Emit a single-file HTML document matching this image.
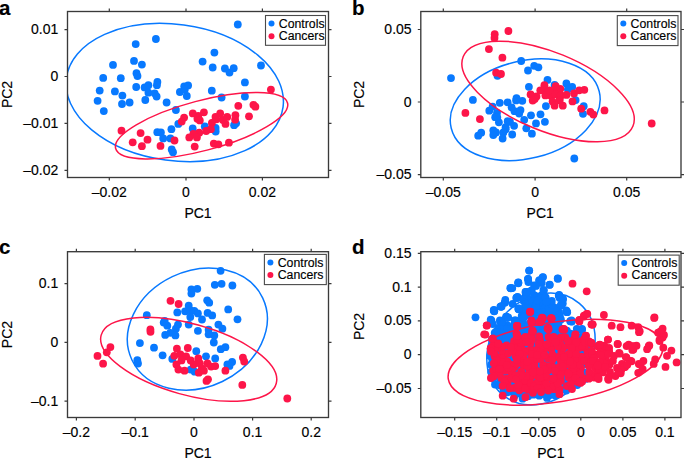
<!DOCTYPE html><html><head><meta charset="utf-8"><style>html,body{margin:0;padding:0;background:#fff;width:685px;height:459px;overflow:hidden}svg{display:block}text{font-family:"Liberation Sans",sans-serif;fill:#000;stroke:#000;stroke-width:0.15px}</style></head><body>
<svg width="685" height="459" viewBox="0 0 685 459">
<clipPath id="clipa"><rect x="67.5" y="11.5" width="261.0" height="166.0"/></clipPath>
<g clip-path="url(#clipa)">
<g fill="#0879ff"><circle cx="135.7" cy="44.1" r="3.9"/><circle cx="155.9" cy="39.0" r="3.9"/><circle cx="113.0" cy="64.9" r="3.9"/><circle cx="134.0" cy="60.9" r="3.9"/><circle cx="141.9" cy="64.6" r="3.9"/><circle cx="237.8" cy="24.5" r="3.9"/><circle cx="214.4" cy="52.6" r="3.9"/><circle cx="202.6" cy="61.6" r="3.9"/><circle cx="212.7" cy="67.5" r="3.9"/><circle cx="224.9" cy="68.5" r="3.9"/><circle cx="229.5" cy="72.6" r="3.9"/><circle cx="233.7" cy="68.2" r="3.9"/><circle cx="261.0" cy="65.5" r="3.9"/><circle cx="103.2" cy="77.9" r="3.9"/><circle cx="120.8" cy="78.2" r="3.9"/><circle cx="136.5" cy="73.2" r="3.9"/><circle cx="137.5" cy="76.1" r="3.9"/><circle cx="99.7" cy="90.6" r="3.9"/><circle cx="114.9" cy="91.4" r="3.9"/><circle cx="122.4" cy="95.6" r="3.9"/><circle cx="136.2" cy="87.0" r="3.9"/><circle cx="144.6" cy="87.4" r="3.9"/><circle cx="148.4" cy="85.2" r="3.9"/><circle cx="148.4" cy="92.7" r="3.9"/><circle cx="157.4" cy="82.0" r="3.9"/><circle cx="156.9" cy="85.2" r="3.9"/><circle cx="154.7" cy="93.3" r="3.9"/><circle cx="156.6" cy="96.5" r="3.9"/><circle cx="97.6" cy="100.8" r="3.9"/><circle cx="145.3" cy="100.0" r="3.9"/><circle cx="122.0" cy="104.0" r="3.9"/><circle cx="129.6" cy="102.5" r="3.9"/><circle cx="166.6" cy="102.5" r="3.9"/><circle cx="103.8" cy="111.1" r="3.9"/><circle cx="184.2" cy="86.4" r="3.9"/><circle cx="188.1" cy="85.4" r="3.9"/><circle cx="179.9" cy="92.0" r="3.9"/><circle cx="186.8" cy="96.0" r="3.9"/><circle cx="184.8" cy="89.6" r="3.9"/><circle cx="211.8" cy="90.7" r="3.9"/><circle cx="221.6" cy="97.5" r="3.9"/><circle cx="175.9" cy="110.0" r="3.9"/><circle cx="244.9" cy="82.4" r="3.9"/><circle cx="244.9" cy="96.5" r="3.9"/><circle cx="157.3" cy="132.2" r="3.9"/><circle cx="160.9" cy="132.5" r="3.9"/><circle cx="163.2" cy="138.4" r="3.9"/><circle cx="171.4" cy="129.2" r="3.9"/><circle cx="170.4" cy="138.4" r="3.9"/><circle cx="171.7" cy="149.5" r="3.9"/><circle cx="173.0" cy="152.2" r="3.9"/><circle cx="178.3" cy="123.9" r="3.9"/><circle cx="192.7" cy="128.5" r="3.9"/><circle cx="204.8" cy="126.4" r="3.9"/><circle cx="215.6" cy="128.0" r="3.9"/><circle cx="215.7" cy="131.5" r="3.9"/><circle cx="234.1" cy="125.2" r="3.9"/><circle cx="236.1" cy="123.3" r="3.9"/></g>
<ellipse cx="174.74" cy="92.54" rx="109.29" ry="68.17" transform="rotate(7.71 174.74 92.54)" fill="none" stroke="#0879ff" stroke-width="1.5"/>
<g fill="#fd1549"><circle cx="198.2" cy="115.9" r="3.9"/><circle cx="184.1" cy="117.6" r="3.9"/><circle cx="121.5" cy="130.7" r="3.9"/><circle cx="140.6" cy="133.1" r="3.9"/><circle cx="147.5" cy="139.7" r="3.9"/><circle cx="132.7" cy="142.3" r="3.9"/><circle cx="141.9" cy="146.2" r="3.9"/><circle cx="270.9" cy="89.6" r="3.9"/><circle cx="253.4" cy="104.8" r="3.9"/><circle cx="255.4" cy="106.7" r="3.9"/><circle cx="249.0" cy="116.3" r="3.9"/><circle cx="160.5" cy="145.9" r="3.9"/><circle cx="174.5" cy="140.5" r="3.9"/><circle cx="213.8" cy="143.6" r="3.9"/><circle cx="218.4" cy="144.3" r="3.9"/><circle cx="228.9" cy="142.7" r="3.9"/><circle cx="194.7" cy="146.6" r="3.9"/><circle cx="216.4" cy="119.3" r="3.9"/><circle cx="223.0" cy="120.0" r="3.9"/><circle cx="235.1" cy="119.7" r="3.9"/><circle cx="211.9" cy="123.0" r="3.9"/><circle cx="238.3" cy="105.8" r="3.9"/><circle cx="181.7" cy="121.6" r="3.9"/><circle cx="192.8" cy="113.4" r="3.9"/><circle cx="197.4" cy="118.7" r="3.9"/><circle cx="199.8" cy="120.4" r="3.9"/><circle cx="203.9" cy="112.3" r="3.9"/><circle cx="220.2" cy="113.4" r="3.9"/><circle cx="215.5" cy="116.9" r="3.9"/><circle cx="227.2" cy="116.9" r="3.9"/><circle cx="225.5" cy="123.9" r="3.9"/><circle cx="235.4" cy="115.2" r="3.9"/><circle cx="210.9" cy="129.2" r="3.9"/><circle cx="206.2" cy="131.0" r="3.9"/><circle cx="199.2" cy="132.7" r="3.9"/><circle cx="193.4" cy="133.9" r="3.9"/><circle cx="189.3" cy="137.4" r="3.9"/><circle cx="196.9" cy="137.4" r="3.9"/></g>
<ellipse cx="201.6" cy="125.76" rx="88.9" ry="24.95" transform="rotate(-14.86 201.6 125.76)" fill="none" stroke="#fd1549" stroke-width="1.5"/>
</g>
<rect x="67.5" y="11.5" width="261.0" height="166.0" fill="none" stroke="#3a3a3a" stroke-width="1.35"/>
<path d="M109.3 11.5v-3M109.3 177.5v3M186 11.5v-3M186 177.5v3M262.4 11.5v-3M262.4 177.5v3M67.5 29.6h-3M328.5 29.6h3M67.5 76.5h-3M328.5 76.5h3M67.5 123.4h-3M328.5 123.4h3M67.5 170.4h-3M328.5 170.4h3" stroke="#3a3a3a" stroke-width="1.2" fill="none"/>
<text x="109.3" y="197.1" font-size="14" text-anchor="middle">–0.02</text>
<text x="186" y="197.1" font-size="14" text-anchor="middle">0</text>
<text x="262.4" y="197.1" font-size="14" text-anchor="middle">0.02</text>
<text x="58.3" y="34.1" font-size="14" text-anchor="end">0.01</text>
<text x="58.3" y="81.0" font-size="14" text-anchor="end">0</text>
<text x="58.3" y="127.9" font-size="14" text-anchor="end">–0.01</text>
<text x="58.3" y="174.9" font-size="14" text-anchor="end">–0.02</text>
<text x="198.0" y="218.0" font-size="14" text-anchor="middle">PC1</text>
<text x="0" y="0" font-size="14" text-anchor="middle" transform="translate(12.3 94.5) rotate(-90)">PC2</text>
<text x="-1" y="14.7" font-size="20.5" font-weight="bold" style="fill:#000">a</text>
<rect x="265.5" y="15.5" width="60.0" height="29.799999999999997" fill="#fff" stroke="#4a4a4a" stroke-width="1.1"/>
<circle cx="271.5" cy="23.5" r="3" fill="#0879ff"/><circle cx="271.5" cy="36.2" r="3" fill="#fd1549"/>
<text x="278.8" y="27.6" font-size="12.3">Controls</text>
<text x="278.8" y="39.6" font-size="12.3">Cancers</text>
<clipPath id="clipb"><rect x="420.8" y="11.5" width="260.2" height="166.0"/></clipPath>
<g clip-path="url(#clipb)">
<g fill="#0879ff"><circle cx="451.0" cy="78.1" r="3.9"/><circle cx="472.9" cy="99.9" r="3.9"/><circle cx="521.2" cy="61.0" r="3.9"/><circle cx="534.2" cy="65.8" r="3.9"/><circle cx="538.4" cy="67.3" r="3.9"/><circle cx="528.0" cy="70.5" r="3.9"/><circle cx="497.5" cy="75.8" r="3.9"/><circle cx="499.8" cy="102.8" r="3.9"/><circle cx="507.6" cy="102.3" r="3.9"/><circle cx="489.3" cy="110.7" r="3.9"/><circle cx="492.6" cy="106.7" r="3.9"/><circle cx="497.0" cy="112.8" r="3.9"/><circle cx="495.2" cy="117.2" r="3.9"/><circle cx="498.9" cy="122.3" r="3.9"/><circle cx="507.7" cy="121.2" r="3.9"/><circle cx="511.6" cy="107.5" r="3.9"/><circle cx="514.5" cy="111.2" r="3.9"/><circle cx="520.5" cy="110.1" r="3.9"/><circle cx="519.2" cy="113.6" r="3.9"/><circle cx="522.3" cy="100.8" r="3.9"/><circle cx="516.1" cy="100.4" r="3.9"/><circle cx="545.9" cy="106.1" r="3.9"/><circle cx="497.3" cy="117.5" r="3.9"/><circle cx="524.2" cy="119.8" r="3.9"/><circle cx="531.0" cy="115.3" r="3.9"/><circle cx="540.5" cy="114.3" r="3.9"/><circle cx="536.0" cy="123.4" r="3.9"/><circle cx="544.9" cy="121.8" r="3.9"/><circle cx="510.0" cy="121.9" r="3.9"/><circle cx="514.1" cy="125.8" r="3.9"/><circle cx="505.6" cy="127.2" r="3.9"/><circle cx="503.4" cy="132.4" r="3.9"/><circle cx="512.2" cy="134.5" r="3.9"/><circle cx="526.3" cy="128.3" r="3.9"/><circle cx="531.9" cy="133.7" r="3.9"/><circle cx="502.6" cy="138.5" r="3.9"/><circle cx="496" cy="132.4" r="3.9"/><circle cx="547.5" cy="79.9" r="3.9"/><circle cx="528.9" cy="86.8" r="3.9"/><circle cx="554.6" cy="84.9" r="3.9"/><circle cx="566.4" cy="83.4" r="3.9"/><circle cx="572.2" cy="86.9" r="3.9"/><circle cx="567.9" cy="89.3" r="3.9"/><circle cx="575.6" cy="100.1" r="3.9"/><circle cx="583.7" cy="106.2" r="3.9"/><circle cx="583.0" cy="113.8" r="3.9"/><circle cx="516.5" cy="98.2" r="3.9"/><circle cx="478.2" cy="135.7" r="3.9"/><circle cx="481.2" cy="132.7" r="3.9"/><circle cx="493.3" cy="130.5" r="3.9"/><circle cx="493.3" cy="135.1" r="3.9"/><circle cx="505.7" cy="129.2" r="3.9"/><circle cx="574.3" cy="158.5" r="3.9"/></g>
<ellipse cx="525.21" cy="109.77" rx="76.24" ry="48.75" transform="rotate(-14.03 525.21 109.77)" fill="none" stroke="#0879ff" stroke-width="1.5"/>
<g fill="#fd1549"><circle cx="545.5" cy="91.3" r="3.9"/><circle cx="555.9" cy="91.3" r="3.9"/><circle cx="551.2" cy="96.1" r="3.9"/><circle cx="559.7" cy="98.0" r="3.9"/><circle cx="536.5" cy="96.5" r="3.9"/><circle cx="494.7" cy="34.2" r="3.9"/><circle cx="494.5" cy="38.0" r="3.9"/><circle cx="508.4" cy="31.0" r="3.9"/><circle cx="488.9" cy="49.1" r="3.9"/><circle cx="502.4" cy="57.7" r="3.9"/><circle cx="496.1" cy="72.7" r="3.9"/><circle cx="501.0" cy="74.0" r="3.9"/><circle cx="465.4" cy="112.9" r="3.9"/><circle cx="479.9" cy="119.1" r="3.9"/><circle cx="530.6" cy="94.4" r="3.9"/><circle cx="534.7" cy="99.0" r="3.9"/><circle cx="532.7" cy="100.5" r="3.9"/><circle cx="540.3" cy="90.3" r="3.9"/><circle cx="544.4" cy="85.2" r="3.9"/><circle cx="545.4" cy="95.4" r="3.9"/><circle cx="549.5" cy="90.3" r="3.9"/><circle cx="555.7" cy="86.2" r="3.9"/><circle cx="560.3" cy="88.8" r="3.9"/><circle cx="555.7" cy="94.4" r="3.9"/><circle cx="560.8" cy="95.4" r="3.9"/><circle cx="566.4" cy="94.9" r="3.9"/><circle cx="552.6" cy="101.6" r="3.9"/><circle cx="554.6" cy="105.7" r="3.9"/><circle cx="562.8" cy="105.7" r="3.9"/><circle cx="559.7" cy="100.5" r="3.9"/><circle cx="574.0" cy="93.4" r="3.9"/><circle cx="579.2" cy="90.3" r="3.9"/><circle cx="584.3" cy="89.8" r="3.9"/><circle cx="572.5" cy="101.4" r="3.9"/><circle cx="581.2" cy="108.7" r="3.9"/><circle cx="590.4" cy="111.8" r="3.9"/><circle cx="593.4" cy="114.6" r="3.9"/><circle cx="604.5" cy="110.4" r="3.9"/><circle cx="651.7" cy="123.5" r="3.9"/></g>
<ellipse cx="548.07" cy="91.46" rx="91.71" ry="39.23" transform="rotate(22.35 548.07 91.46)" fill="none" stroke="#fd1549" stroke-width="1.5"/>
</g>
<rect x="420.8" y="11.5" width="260.2" height="166.0" fill="none" stroke="#3a3a3a" stroke-width="1.35"/>
<path d="M443.3 11.5v-3M443.3 177.5v3M535.1 11.5v-3M535.1 177.5v3M626.7 11.5v-3M626.7 177.5v3M420.8 29.5h-3M681 29.5h3M420.8 102h-3M681 102h3M420.8 174.7h-3M681 174.7h3" stroke="#3a3a3a" stroke-width="1.2" fill="none"/>
<text x="443.3" y="197.1" font-size="14" text-anchor="middle">–0.05</text>
<text x="535.1" y="197.1" font-size="14" text-anchor="middle">0</text>
<text x="626.7" y="197.1" font-size="14" text-anchor="middle">0.05</text>
<text x="411.6" y="34.0" font-size="14" text-anchor="end">0.05</text>
<text x="411.6" y="106.5" font-size="14" text-anchor="end">0</text>
<text x="411.6" y="179.2" font-size="14" text-anchor="end">–0.05</text>
<text x="540.2" y="218.0" font-size="14" text-anchor="middle">PC1</text>
<text x="0" y="0" font-size="14" text-anchor="middle" transform="translate(364.1 94.5) rotate(-90)">PC2</text>
<text x="352" y="14.7" font-size="20.5" font-weight="bold" style="fill:#000">b</text>
<rect x="617.3" y="15.6" width="60.700000000000045" height="30.0" fill="#fff" stroke="#4a4a4a" stroke-width="1.1"/>
<circle cx="623.3" cy="23.6" r="3" fill="#0879ff"/><circle cx="623.3" cy="36.3" r="3" fill="#fd1549"/>
<text x="630.5999999999999" y="27.7" font-size="12.3">Controls</text>
<text x="630.5999999999999" y="39.7" font-size="12.3">Cancers</text>
<clipPath id="clipc"><rect x="67.5" y="251.7" width="261.0" height="165.8"/></clipPath>
<g clip-path="url(#clipc)">
<g fill="#0879ff"><circle cx="220.6" cy="270.8" r="3.9"/><circle cx="214.8" cy="284.8" r="3.9"/><circle cx="221.6" cy="283.8" r="3.9"/><circle cx="232.4" cy="285.5" r="3.9"/><circle cx="191.4" cy="289.4" r="3.9"/><circle cx="197.3" cy="288.8" r="3.9"/><circle cx="191.4" cy="293.6" r="3.9"/><circle cx="207.2" cy="300.3" r="3.9"/><circle cx="209.2" cy="302.7" r="3.9"/><circle cx="228.2" cy="309.4" r="3.9"/><circle cx="177.3" cy="312.4" r="3.9"/><circle cx="188.7" cy="305.7" r="3.9"/><circle cx="185.1" cy="311.3" r="3.9"/><circle cx="190.3" cy="310.3" r="3.9"/><circle cx="194.3" cy="310.8" r="3.9"/><circle cx="197.9" cy="313.4" r="3.9"/><circle cx="190.3" cy="317.0" r="3.9"/><circle cx="202.0" cy="319.5" r="3.9"/><circle cx="207.6" cy="312.9" r="3.9"/><circle cx="212.2" cy="315.4" r="3.9"/><circle cx="188.7" cy="324.6" r="3.9"/><circle cx="197.9" cy="330.8" r="3.9"/><circle cx="218.4" cy="324.6" r="3.9"/><circle cx="222.4" cy="328.7" r="3.9"/><circle cx="163.7" cy="322.6" r="3.9"/><circle cx="167.3" cy="325.7" r="3.9"/><circle cx="178.0" cy="324.6" r="3.9"/><circle cx="175.9" cy="328.7" r="3.9"/><circle cx="165.2" cy="334.9" r="3.9"/><circle cx="175.4" cy="335.4" r="3.9"/><circle cx="170.3" cy="332.8" r="3.9"/><circle cx="208.6" cy="329.7" r="3.9"/><circle cx="208.6" cy="334.3" r="3.9"/><circle cx="214.3" cy="335.4" r="3.9"/><circle cx="237.5" cy="319.3" r="3.9"/><circle cx="213.8" cy="342.5" r="3.9"/><circle cx="220.8" cy="349.2" r="3.9"/><circle cx="225.4" cy="347.2" r="3.9"/><circle cx="162.6" cy="355.3" r="3.9"/><circle cx="196.3" cy="351.2" r="3.9"/><circle cx="206.0" cy="356.3" r="3.9"/><circle cx="215.2" cy="358.4" r="3.9"/><circle cx="172.3" cy="358.9" r="3.9"/><circle cx="190.7" cy="369.6" r="3.9"/><circle cx="194.7" cy="371.7" r="3.9"/><circle cx="227.4" cy="364.5" r="3.9"/><circle cx="232.1" cy="362" r="3.9"/><circle cx="229.5" cy="365.9" r="3.9"/><circle cx="146.8" cy="315.2" r="3.9"/><circle cx="139.9" cy="343.1" r="3.9"/><circle cx="154.0" cy="347.7" r="3.9"/><circle cx="137.3" cy="360.2" r="3.9"/><circle cx="138.0" cy="363.5" r="3.9"/><circle cx="164.7" cy="321.0" r="3.9"/></g>
<ellipse cx="197.35" cy="329.06" rx="72.35" ry="58.06" transform="rotate(-25.53 197.35 329.06)" fill="none" stroke="#0879ff" stroke-width="1.5"/>
<g fill="#fd1549"><circle cx="170.5" cy="300.8" r="3.9"/><circle cx="178.6" cy="304.0" r="3.9"/><circle cx="150.4" cy="329.5" r="3.9"/><circle cx="150.5" cy="331.8" r="3.9"/><circle cx="110.4" cy="347.1" r="3.9"/><circle cx="106.8" cy="352.3" r="3.9"/><circle cx="97.5" cy="355.9" r="3.9"/><circle cx="103.1" cy="363.7" r="3.9"/><circle cx="176.9" cy="348.7" r="3.9"/><circle cx="187.8" cy="348.0" r="3.9"/><circle cx="174.3" cy="355.8" r="3.9"/><circle cx="180.4" cy="354.3" r="3.9"/><circle cx="186.1" cy="356.3" r="3.9"/><circle cx="176.4" cy="364.5" r="3.9"/><circle cx="178.4" cy="369.6" r="3.9"/><circle cx="184.5" cy="370.7" r="3.9"/><circle cx="181.5" cy="360.4" r="3.9"/><circle cx="190.7" cy="360.4" r="3.9"/><circle cx="193.7" cy="364.5" r="3.9"/><circle cx="198.3" cy="358.4" r="3.9"/><circle cx="199.9" cy="363.5" r="3.9"/><circle cx="201.9" cy="368.6" r="3.9"/><circle cx="198.8" cy="372.7" r="3.9"/><circle cx="203.9" cy="370.7" r="3.9"/><circle cx="207.5" cy="363.5" r="3.9"/><circle cx="211.1" cy="366.6" r="3.9"/><circle cx="215.2" cy="366.1" r="3.9"/><circle cx="225.4" cy="370.7" r="3.9"/><circle cx="208.0" cy="379.3" r="3.9"/><circle cx="206.5" cy="380.9" r="3.9"/><circle cx="242.9" cy="357.6" r="3.9"/><circle cx="244.2" cy="361.5" r="3.9"/><circle cx="242.3" cy="384.9" r="3.9"/><circle cx="287.3" cy="398.5" r="3.9"/></g>
<ellipse cx="188.7" cy="359.33" rx="90.81" ry="35.57" transform="rotate(15.45 188.7 359.33)" fill="none" stroke="#fd1549" stroke-width="1.5"/>
</g>
<rect x="67.5" y="251.7" width="261.0" height="165.8" fill="none" stroke="#3a3a3a" stroke-width="1.35"/>
<path d="M76.4 251.7v-3M76.4 417.5v3M135.2 251.7v-3M135.2 417.5v3M194 251.7v-3M194 417.5v3M252.6 251.7v-3M252.6 417.5v3M311.2 251.7v-3M311.2 417.5v3M67.5 283.6h-3M328.5 283.6h3M67.5 342.3h-3M328.5 342.3h3M67.5 401.1h-3M328.5 401.1h3" stroke="#3a3a3a" stroke-width="1.2" fill="none"/>
<text x="76.4" y="437.1" font-size="14" text-anchor="middle">–0.2</text>
<text x="135.2" y="437.1" font-size="14" text-anchor="middle">–0.1</text>
<text x="194" y="437.1" font-size="14" text-anchor="middle">0</text>
<text x="252.6" y="437.1" font-size="14" text-anchor="middle">0.1</text>
<text x="311.2" y="437.1" font-size="14" text-anchor="middle">0.2</text>
<text x="58.3" y="288.1" font-size="14" text-anchor="end">0.1</text>
<text x="58.3" y="346.8" font-size="14" text-anchor="end">0</text>
<text x="58.3" y="405.6" font-size="14" text-anchor="end">–0.1</text>
<text x="198.0" y="458.0" font-size="14" text-anchor="middle">PC1</text>
<text x="0" y="0" font-size="14" text-anchor="middle" transform="translate(12.3 334.6) rotate(-90)">PC2</text>
<text x="-1" y="253.7" font-size="20.5" font-weight="bold" style="fill:#000">c</text>
<rect x="264.4" y="254.4" width="61.900000000000034" height="30.200000000000017" fill="#fff" stroke="#4a4a4a" stroke-width="1.1"/>
<circle cx="270.4" cy="262.4" r="3" fill="#0879ff"/><circle cx="270.4" cy="275.1" r="3" fill="#fd1549"/>
<text x="277.7" y="266.5" font-size="12.3">Controls</text>
<text x="277.7" y="278.5" font-size="12.3">Cancers</text>
<clipPath id="clipd"><rect x="420.8" y="251.7" width="260.2" height="165.8"/></clipPath>
<g clip-path="url(#clipd)">
<g fill="#0879ff"><circle cx="501.7" cy="346.4" r="3.9"/><circle cx="503.6" cy="390.6" r="3.9"/><circle cx="582.9" cy="359.1" r="3.9"/><circle cx="525.5" cy="347.7" r="3.9"/><circle cx="554.6" cy="323.4" r="3.9"/><circle cx="502.7" cy="376.2" r="3.9"/><circle cx="555.4" cy="347.8" r="3.9"/><circle cx="569.9" cy="351.6" r="3.9"/><circle cx="543.8" cy="344.8" r="3.9"/><circle cx="524.0" cy="355.9" r="3.9"/><circle cx="512.3" cy="377.6" r="3.9"/><circle cx="535.2" cy="323.5" r="3.9"/><circle cx="531.6" cy="310.2" r="3.9"/><circle cx="555.7" cy="315.8" r="3.9"/><circle cx="523.2" cy="343.3" r="3.9"/><circle cx="578.7" cy="366.8" r="3.9"/><circle cx="534.5" cy="366.2" r="3.9"/><circle cx="572.7" cy="355.6" r="3.9"/><circle cx="519.6" cy="327.7" r="3.9"/><circle cx="535.2" cy="308.1" r="3.9"/><circle cx="495.1" cy="356.6" r="3.9"/><circle cx="518.0" cy="369.9" r="3.9"/><circle cx="537.8" cy="382.9" r="3.9"/><circle cx="510.5" cy="327.5" r="3.9"/><circle cx="514.6" cy="395.8" r="3.9"/><circle cx="532.2" cy="327.4" r="3.9"/><circle cx="495.7" cy="336.6" r="3.9"/><circle cx="513.3" cy="382.1" r="3.9"/><circle cx="562.4" cy="351.2" r="3.9"/><circle cx="554.5" cy="366.3" r="3.9"/><circle cx="566.3" cy="390.5" r="3.9"/><circle cx="503.8" cy="359.5" r="3.9"/><circle cx="503.2" cy="340.6" r="3.9"/><circle cx="566.8" cy="387.2" r="3.9"/><circle cx="524.6" cy="311.8" r="3.9"/><circle cx="513.2" cy="331.8" r="3.9"/><circle cx="495.0" cy="384.6" r="3.9"/><circle cx="552.0" cy="311.5" r="3.9"/><circle cx="538.3" cy="303.1" r="3.9"/><circle cx="549.5" cy="318.9" r="3.9"/><circle cx="544.0" cy="360.6" r="3.9"/><circle cx="521.2" cy="361.3" r="3.9"/><circle cx="523.9" cy="308.5" r="3.9"/><circle cx="520.2" cy="335.7" r="3.9"/><circle cx="497.5" cy="352.8" r="3.9"/><circle cx="568.8" cy="365.4" r="3.9"/><circle cx="493.9" cy="377.6" r="3.9"/><circle cx="560.1" cy="377.9" r="3.9"/><circle cx="502.7" cy="335.2" r="3.9"/><circle cx="549.0" cy="357.1" r="3.9"/><circle cx="512.7" cy="359.1" r="3.9"/><circle cx="524.4" cy="370.7" r="3.9"/><circle cx="517.8" cy="377.3" r="3.9"/><circle cx="530.1" cy="352.0" r="3.9"/><circle cx="498.5" cy="328.5" r="3.9"/><circle cx="566.6" cy="360.6" r="3.9"/><circle cx="578.3" cy="372.8" r="3.9"/><circle cx="566.5" cy="341.1" r="3.9"/><circle cx="545.0" cy="301.4" r="3.9"/><circle cx="544.0" cy="378.9" r="3.9"/><circle cx="499.7" cy="385.2" r="3.9"/><circle cx="525.8" cy="304.4" r="3.9"/><circle cx="550.3" cy="341.9" r="3.9"/><circle cx="531.4" cy="382.8" r="3.9"/><circle cx="538.4" cy="308.8" r="3.9"/><circle cx="495.7" cy="342.4" r="3.9"/><circle cx="587.1" cy="350.2" r="3.9"/><circle cx="500.9" cy="338.1" r="3.9"/><circle cx="509.5" cy="368.6" r="3.9"/><circle cx="542.6" cy="324.7" r="3.9"/><circle cx="529.1" cy="371.0" r="3.9"/><circle cx="504.7" cy="332.3" r="3.9"/><circle cx="525.1" cy="386.4" r="3.9"/><circle cx="581.0" cy="336.9" r="3.9"/><circle cx="562.9" cy="332.6" r="3.9"/><circle cx="504.2" cy="354.2" r="3.9"/><circle cx="497.6" cy="363.3" r="3.9"/><circle cx="584.8" cy="356.2" r="3.9"/><circle cx="555.7" cy="333.4" r="3.9"/><circle cx="507.1" cy="325.0" r="3.9"/><circle cx="560.3" cy="328.5" r="3.9"/><circle cx="533.5" cy="394.7" r="3.9"/><circle cx="505.4" cy="345.2" r="3.9"/><circle cx="537.4" cy="329.2" r="3.9"/><circle cx="528.5" cy="308.1" r="3.9"/><circle cx="546.7" cy="348.4" r="3.9"/><circle cx="581.7" cy="377.4" r="3.9"/><circle cx="536.3" cy="349.0" r="3.9"/><circle cx="528.3" cy="336.2" r="3.9"/><circle cx="532.2" cy="332.5" r="3.9"/><circle cx="490.1" cy="356.0" r="3.9"/><circle cx="541.5" cy="384.2" r="3.9"/><circle cx="530.2" cy="376.0" r="3.9"/><circle cx="526.1" cy="329.7" r="3.9"/><circle cx="544.8" cy="386.4" r="3.9"/><circle cx="527.4" cy="300.2" r="3.9"/><circle cx="532.8" cy="317.1" r="3.9"/><circle cx="529.8" cy="365.8" r="3.9"/><circle cx="532.4" cy="347.9" r="3.9"/><circle cx="513.6" cy="369.4" r="3.9"/><circle cx="556.6" cy="336.7" r="3.9"/><circle cx="519.3" cy="355.3" r="3.9"/><circle cx="499.3" cy="335.1" r="3.9"/><circle cx="515.8" cy="365.0" r="3.9"/><circle cx="564.0" cy="367.8" r="3.9"/><circle cx="546.1" cy="365.2" r="3.9"/><circle cx="559.2" cy="391.4" r="3.9"/><circle cx="572.9" cy="334.9" r="3.9"/><circle cx="525.9" cy="390.5" r="3.9"/><circle cx="540.1" cy="378.3" r="3.9"/><circle cx="504.0" cy="380.9" r="3.9"/><circle cx="543.8" cy="394.1" r="3.9"/><circle cx="507.4" cy="349.1" r="3.9"/><circle cx="521.2" cy="346.9" r="3.9"/><circle cx="534.7" cy="343.9" r="3.9"/><circle cx="560.5" cy="341.2" r="3.9"/><circle cx="491.1" cy="364.7" r="3.9"/><circle cx="536.0" cy="388.3" r="3.9"/><circle cx="574.7" cy="360.3" r="3.9"/><circle cx="510.6" cy="389.8" r="3.9"/><circle cx="513.0" cy="348.4" r="3.9"/><circle cx="556.4" cy="377.1" r="3.9"/><circle cx="513.6" cy="344.1" r="3.9"/><circle cx="546.6" cy="376.0" r="3.9"/><circle cx="586.1" cy="341.2" r="3.9"/><circle cx="552.3" cy="389.9" r="3.9"/><circle cx="555.3" cy="395.4" r="3.9"/><circle cx="502.9" cy="387.2" r="3.9"/><circle cx="572.8" cy="368.3" r="3.9"/><circle cx="550.4" cy="395.0" r="3.9"/><circle cx="557.0" cy="326.9" r="3.9"/><circle cx="499.7" cy="341.2" r="3.9"/><circle cx="550.3" cy="323.1" r="3.9"/><circle cx="516.5" cy="390.4" r="3.9"/><circle cx="523.5" cy="381.8" r="3.9"/><circle cx="584.0" cy="372.5" r="3.9"/><circle cx="543.7" cy="309.9" r="3.9"/><circle cx="515.2" cy="356.4" r="3.9"/><circle cx="552.0" cy="370.6" r="3.9"/><circle cx="495.1" cy="373.3" r="3.9"/><circle cx="509.0" cy="376.4" r="3.9"/><circle cx="534.9" cy="295.7" r="3.9"/><circle cx="544.6" cy="340.6" r="3.9"/><circle cx="559.0" cy="312.2" r="3.9"/><circle cx="532.9" cy="357.5" r="3.9"/><circle cx="559.9" cy="315.9" r="3.9"/><circle cx="508.4" cy="353.3" r="3.9"/><circle cx="519.3" cy="332.0" r="3.9"/><circle cx="548.6" cy="381.4" r="3.9"/><circle cx="501.5" cy="350.2" r="3.9"/><circle cx="542.7" cy="330.7" r="3.9"/><circle cx="536.6" cy="337.0" r="3.9"/><circle cx="519.3" cy="393.4" r="3.9"/><circle cx="523.7" cy="335.7" r="3.9"/><circle cx="548.9" cy="335.2" r="3.9"/><circle cx="569.0" cy="346.7" r="3.9"/><circle cx="562.9" cy="389.2" r="3.9"/><circle cx="564.7" cy="377.4" r="3.9"/><circle cx="510.9" cy="340.0" r="3.9"/><circle cx="551.9" cy="354.8" r="3.9"/><circle cx="517.4" cy="343.6" r="3.9"/><circle cx="545.4" cy="354.6" r="3.9"/><circle cx="516.5" cy="351.3" r="3.9"/><circle cx="542.3" cy="388.7" r="3.9"/><circle cx="512.0" cy="363.2" r="3.9"/><circle cx="536.0" cy="355.4" r="3.9"/><circle cx="548.1" cy="306.3" r="3.9"/><circle cx="540.2" cy="365.9" r="3.9"/><circle cx="574.5" cy="377.3" r="3.9"/><circle cx="519.3" cy="322.7" r="3.9"/><circle cx="540.6" cy="320.5" r="3.9"/><circle cx="574.8" cy="364.8" r="3.9"/><circle cx="503.8" cy="370.4" r="3.9"/><circle cx="520.8" cy="385.3" r="3.9"/><circle cx="584.9" cy="364.1" r="3.9"/><circle cx="513.7" cy="392.3" r="3.9"/><circle cx="515.7" cy="328.9" r="3.9"/><circle cx="563.6" cy="371.3" r="3.9"/><circle cx="556.5" cy="351.0" r="3.9"/><circle cx="522.8" cy="365.3" r="3.9"/><circle cx="492.1" cy="345.3" r="3.9"/><circle cx="497.2" cy="370.2" r="3.9"/><circle cx="530.3" cy="392.2" r="3.9"/><circle cx="530.6" cy="322.1" r="3.9"/><circle cx="581.1" cy="381.8" r="3.9"/><circle cx="524.2" cy="351.6" r="3.9"/><circle cx="560.9" cy="365.7" r="3.9"/><circle cx="546.6" cy="315.3" r="3.9"/><circle cx="534.4" cy="377.8" r="3.9"/><circle cx="521.7" cy="316.0" r="3.9"/><circle cx="562.3" cy="382.1" r="3.9"/><circle cx="578.1" cy="339.9" r="3.9"/><circle cx="529.0" cy="357.6" r="3.9"/><circle cx="552.0" cy="382.7" r="3.9"/><circle cx="544.5" cy="334.4" r="3.9"/><circle cx="546.1" cy="319.3" r="3.9"/><circle cx="560.9" cy="319.5" r="3.9"/><circle cx="492.3" cy="359.8" r="3.9"/><circle cx="540.5" cy="391.7" r="3.9"/><circle cx="514.7" cy="335.6" r="3.9"/><circle cx="549.3" cy="362.0" r="3.9"/><circle cx="567.9" cy="373.4" r="3.9"/><circle cx="530.3" cy="344.0" r="3.9"/><circle cx="507.8" cy="392.3" r="3.9"/><circle cx="579.7" cy="362.4" r="3.9"/><circle cx="556.3" cy="362.2" r="3.9"/><circle cx="528.1" cy="382.5" r="3.9"/><circle cx="550.6" cy="375.8" r="3.9"/><circle cx="504.4" cy="365.8" r="3.9"/><circle cx="522.7" cy="373.6" r="3.9"/><circle cx="533.0" cy="371.3" r="3.9"/><circle cx="571.4" cy="360.3" r="3.9"/><circle cx="517.6" cy="347.1" r="3.9"/><circle cx="546.6" cy="326.1" r="3.9"/><circle cx="501.6" cy="330.3" r="3.9"/><circle cx="510.9" cy="335.6" r="3.9"/><circle cx="538.0" cy="351.9" r="3.9"/><circle cx="561.0" cy="344.7" r="3.9"/><circle cx="536.6" cy="333.2" r="3.9"/><circle cx="506.0" cy="362.3" r="3.9"/><circle cx="555.8" cy="307.9" r="3.9"/><circle cx="500.6" cy="360.7" r="3.9"/><circle cx="514.2" cy="323.8" r="3.9"/><circle cx="532.5" cy="302.7" r="3.9"/><circle cx="549.5" cy="331.2" r="3.9"/><circle cx="532.2" cy="341.0" r="3.9"/><circle cx="517.9" cy="362.2" r="3.9"/><circle cx="534.9" cy="312.9" r="3.9"/><circle cx="577.7" cy="343.7" r="3.9"/><circle cx="509.2" cy="384.1" r="3.9"/><circle cx="538.1" cy="359.1" r="3.9"/><circle cx="509.4" cy="359.4" r="3.9"/><circle cx="563.0" cy="363.1" r="3.9"/><circle cx="557.8" cy="388.2" r="3.9"/><circle cx="557.9" cy="358.4" r="3.9"/><circle cx="554.5" cy="379.8" r="3.9"/><circle cx="523.9" cy="324.1" r="3.9"/><circle cx="553.0" cy="359.7" r="3.9"/><circle cx="542.0" cy="316.0" r="3.9"/><circle cx="523.9" cy="394.3" r="3.9"/><circle cx="522.7" cy="319.5" r="3.9"/><circle cx="508.0" cy="333.2" r="3.9"/><circle cx="560.1" cy="371.0" r="3.9"/><circle cx="520.6" cy="379.8" r="3.9"/><circle cx="568.0" cy="381.3" r="3.9"/><circle cx="540.0" cy="313.3" r="3.9"/><circle cx="556.8" cy="343.6" r="3.9"/><circle cx="541.4" cy="351.5" r="3.9"/><circle cx="573.6" cy="348.8" r="3.9"/><circle cx="561.5" cy="337.6" r="3.9"/><circle cx="582.4" cy="351.9" r="3.9"/><circle cx="538.2" cy="299.8" r="3.9"/><circle cx="528.6" cy="388.1" r="3.9"/><circle cx="541.9" cy="357.3" r="3.9"/><circle cx="568.7" cy="334.5" r="3.9"/><circle cx="536.9" cy="341.2" r="3.9"/><circle cx="532.3" cy="386.3" r="3.9"/><circle cx="525.6" cy="362.4" r="3.9"/><circle cx="541.5" cy="299.4" r="3.9"/><circle cx="532.3" cy="299.4" r="3.9"/><circle cx="541.7" cy="304.6" r="3.9"/><circle cx="579.7" cy="348.9" r="3.9"/><circle cx="522.8" cy="329.0" r="3.9"/><circle cx="504.2" cy="326.9" r="3.9"/><circle cx="535.9" cy="392.1" r="3.9"/><circle cx="526.7" cy="343.8" r="3.9"/><circle cx="550.0" cy="338.5" r="3.9"/><circle cx="552.5" cy="349.7" r="3.9"/><circle cx="558.5" cy="322.9" r="3.9"/><circle cx="497.2" cy="376.1" r="3.9"/><circle cx="525.3" cy="378.1" r="3.9"/><circle cx="542.8" cy="368.4" r="3.9"/><circle cx="547.5" cy="392.0" r="3.9"/><circle cx="554.4" cy="329.6" r="3.9"/><circle cx="565.4" cy="347.7" r="3.9"/><circle cx="515.4" cy="339.6" r="3.9"/><circle cx="554.7" cy="319.0" r="3.9"/><circle cx="575.3" cy="381.8" r="3.9"/><circle cx="572.9" cy="343.6" r="3.9"/><circle cx="577.6" cy="356.9" r="3.9"/><circle cx="548.7" cy="388.1" r="3.9"/><circle cx="515.2" cy="374.0" r="3.9"/><circle cx="500.1" cy="381.4" r="3.9"/><circle cx="551.2" cy="345.7" r="3.9"/><circle cx="539.3" cy="395.7" r="3.9"/><circle cx="534.4" cy="362.2" r="3.9"/><circle cx="536.8" cy="373.5" r="3.9"/><circle cx="491.8" cy="339.3" r="3.9"/><circle cx="495.8" cy="331.9" r="3.9"/><circle cx="519.8" cy="389.1" r="3.9"/><circle cx="556.9" cy="373.2" r="3.9"/><circle cx="555.7" cy="384.8" r="3.9"/><circle cx="538.7" cy="346.4" r="3.9"/><circle cx="512.4" cy="386.5" r="3.9"/><circle cx="537.6" cy="369.1" r="3.9"/><circle cx="540.9" cy="333.6" r="3.9"/><circle cx="523.8" cy="301.2" r="3.9"/><circle cx="528.2" cy="396.2" r="3.9"/><circle cx="559.9" cy="353.7" r="3.9"/><circle cx="505.3" cy="374.2" r="3.9"/><circle cx="545.3" cy="382.3" r="3.9"/><circle cx="529.2" cy="315.0" r="3.9"/><circle cx="566.9" cy="330.6" r="3.9"/><circle cx="491.1" cy="372.1" r="3.9"/><circle cx="535.4" cy="319.8" r="3.9"/><circle cx="570.2" cy="377.9" r="3.9"/><circle cx="552.9" cy="336.1" r="3.9"/><circle cx="496.6" cy="359.8" r="3.9"/><circle cx="505.8" cy="338.3" r="3.9"/><circle cx="547.8" cy="352.2" r="3.9"/><circle cx="571.7" cy="339.8" r="3.9"/><circle cx="586.6" cy="346.4" r="3.9"/><circle cx="562.8" cy="355.7" r="3.9"/><circle cx="549.4" cy="309.4" r="3.9"/><circle cx="506.9" cy="379.1" r="3.9"/><circle cx="509.7" cy="345.1" r="3.9"/><circle cx="551.8" cy="304.5" r="3.9"/><circle cx="560.9" cy="360.4" r="3.9"/><circle cx="527.9" cy="325.4" r="3.9"/><circle cx="500.9" cy="367.0" r="3.9"/><circle cx="507.0" cy="328.9" r="3.9"/><circle cx="493.1" cy="367.4" r="3.9"/><circle cx="491.5" cy="348.8" r="3.9"/><circle cx="498.4" cy="347.0" r="3.9"/><circle cx="521.0" cy="340.4" r="3.9"/><circle cx="516.4" cy="386.9" r="3.9"/><circle cx="509.2" cy="371.9" r="3.9"/><circle cx="577.2" cy="385.1" r="3.9"/><circle cx="529.2" cy="270.6" r="3.9"/><circle cx="528.1" cy="278.9" r="3.9"/><circle cx="518.3" cy="282.6" r="3.9"/><circle cx="543.0" cy="277.1" r="3.9"/><circle cx="539.5" cy="280.2" r="3.9"/><circle cx="541.3" cy="282.8" r="3.9"/><circle cx="536.0" cy="285.9" r="3.9"/><circle cx="549.6" cy="284.8" r="3.9"/><circle cx="557.9" cy="278.7" r="3.9"/><circle cx="526.0" cy="292.0" r="3.9"/><circle cx="531.6" cy="290.3" r="3.9"/><circle cx="543.9" cy="290.3" r="3.9"/><circle cx="517.6" cy="296.8" r="3.9"/><circle cx="524.6" cy="297.7" r="3.9"/><circle cx="532.5" cy="299.0" r="3.9"/><circle cx="541.3" cy="295.5" r="3.9"/><circle cx="545.7" cy="297.3" r="3.9"/><circle cx="558.8" cy="295.5" r="3.9"/><circle cx="562.3" cy="299.0" r="3.9"/><circle cx="551.8" cy="300.8" r="3.9"/><circle cx="539.5" cy="302.5" r="3.9"/><circle cx="516.4" cy="297.9" r="3.9"/><circle cx="518.6" cy="309.3" r="3.9"/><circle cx="523.8" cy="317.2" r="3.9"/><circle cx="514.6" cy="320.3" r="3.9"/><circle cx="526.0" cy="300.6" r="3.9"/><circle cx="566.7" cy="311.5" r="3.9"/><circle cx="559.7" cy="297.9" r="3.9"/><circle cx="570.2" cy="321.2" r="3.9"/><circle cx="562.8" cy="303.6" r="3.9"/><circle cx="510.8" cy="288.3" r="3.9"/><circle cx="518.3" cy="283.3" r="3.9"/><circle cx="528.4" cy="282" r="3.9"/><circle cx="517.0" cy="297.8" r="3.9"/><circle cx="512.6" cy="303.9" r="3.9"/><circle cx="504.7" cy="302.6" r="3.9"/><circle cx="501.2" cy="306.5" r="3.9"/><circle cx="494.2" cy="311.3" r="3.9"/><circle cx="518.7" cy="308.7" r="3.9"/><circle cx="525.7" cy="300.8" r="3.9"/><circle cx="525.7" cy="292.5" r="3.9"/><circle cx="534.1" cy="295.1" r="3.9"/><circle cx="534.1" cy="285.5" r="3.9"/><circle cx="532.3" cy="301.3" r="3.9"/><circle cx="490.7" cy="319.7" r="3.9"/><circle cx="506.9" cy="317.0" r="3.9"/><circle cx="515.7" cy="320.5" r="3.9"/><circle cx="523.5" cy="317.0" r="3.9"/><circle cx="534.1" cy="315.3" r="3.9"/><circle cx="535.8" cy="305.6" r="3.9"/><circle cx="499.9" cy="320.5" r="3.9"/><circle cx="567.2" cy="312.2" r="3.9"/><circle cx="571.5" cy="321.4" r="3.9"/><circle cx="576.8" cy="328.8" r="3.9"/><circle cx="582.0" cy="329.7" r="3.9"/><circle cx="570.7" cy="333.6" r="3.9"/><circle cx="510.3" cy="288.1" r="3.9"/><circle cx="505.1" cy="302.6" r="3.9"/><circle cx="501.1" cy="306.5" r="3.9"/><circle cx="493.9" cy="309.8" r="3.9"/><circle cx="529.2" cy="270.6" r="3.9"/><circle cx="528.0" cy="279.0" r="3.9"/><circle cx="518.3" cy="282.5" r="3.9"/><circle cx="510.8" cy="288.2" r="3.9"/><circle cx="517.0" cy="297.4" r="3.9"/><circle cx="542.6" cy="277.3" r="3.9"/><circle cx="539.1" cy="280.7" r="3.9"/><circle cx="541.7" cy="282.8" r="3.9"/><circle cx="535.4" cy="285.6" r="3.9"/><circle cx="549.7" cy="284.7" r="3.9"/><circle cx="525.5" cy="292.0" r="3.9"/><circle cx="531.3" cy="291.0" r="3.9"/><circle cx="543.4" cy="289.9" r="3.9"/><circle cx="526.8" cy="296.8" r="3.9"/><circle cx="505.3" cy="299.9" r="3.9"/><circle cx="557.7" cy="278.5" r="3.9"/><circle cx="526.9" cy="292.0" r="3.9"/><circle cx="516.5" cy="297.7" r="3.9"/><circle cx="500.4" cy="306.6" r="3.9"/><circle cx="493.7" cy="310.4" r="3.9"/><circle cx="475.5" cy="317.3" r="3.9"/><circle cx="490.9" cy="321.4" r="3.9"/><circle cx="519.0" cy="309.1" r="3.9"/><circle cx="506.1" cy="316.7" r="3.9"/><circle cx="500.4" cy="321.4" r="3.9"/><circle cx="524.1" cy="316.7" r="3.9"/><circle cx="559.2" cy="294.9" r="3.9"/><circle cx="563.0" cy="299.6" r="3.9"/><circle cx="561.1" cy="305.3" r="3.9"/><circle cx="566.8" cy="311.9" r="3.9"/><circle cx="571.5" cy="320.5" r="3.9"/><circle cx="582.0" cy="329.0" r="3.9"/><circle cx="577.2" cy="330.0" r="3.9"/><circle cx="494.7" cy="332.8" r="3.9"/><circle cx="494.3" cy="311.0" r="3.9"/><circle cx="501.6" cy="306.6" r="3.9"/><circle cx="491.4" cy="320.4" r="3.9"/><circle cx="492.8" cy="324.1" r="3.9"/><circle cx="518.4" cy="308.8" r="3.9"/><circle cx="502.3" cy="321.9" r="3.9"/><circle cx="508.2" cy="317.5" r="3.9"/><circle cx="515.5" cy="321.9" r="3.9"/><circle cx="523.5" cy="317.5" r="3.9"/><circle cx="496.5" cy="332.1" r="3.9"/><circle cx="512.3" cy="288.1" r="3.9"/><circle cx="524.1" cy="299.3" r="3.9"/><circle cx="559.0" cy="296.0" r="3.9"/><circle cx="562.9" cy="298.6" r="3.9"/><circle cx="561.0" cy="304.6" r="3.9"/><circle cx="546.5" cy="302.0" r="3.9"/><circle cx="566.2" cy="310.5" r="3.9"/><circle cx="518.9" cy="308.5" r="3.9"/><circle cx="537.3" cy="300.6" r="3.9"/><circle cx="581.5" cy="329.7" r="3.9"/><circle cx="547.0" cy="397.9" r="3.9"/><circle cx="586.0" cy="378.8" r="3.9"/><circle cx="535.9" cy="387.6" r="3.9"/><circle cx="522.6" cy="398.7" r="3.9"/><circle cx="537.3" cy="388.3" r="3.9"/><circle cx="571.7" cy="321.6" r="3.9"/><circle cx="577.8" cy="329.3" r="3.9"/></g>
<ellipse cx="540.96" cy="349.04" rx="59.63" ry="50.0" transform="rotate(-49.94 540.96 349.04)" fill="none" stroke="#0879ff" stroke-width="1.5"/>
<g fill="#fd1549"><circle cx="566.9" cy="386.1" r="3.9"/><circle cx="585.0" cy="347.8" r="3.9"/><circle cx="527.7" cy="384.8" r="3.9"/><circle cx="587.6" cy="361.7" r="3.9"/><circle cx="528.1" cy="350.9" r="3.9"/><circle cx="522.3" cy="360.4" r="3.9"/><circle cx="552.3" cy="366.5" r="3.9"/><circle cx="517.5" cy="344.1" r="3.9"/><circle cx="565.3" cy="337.5" r="3.9"/><circle cx="495.9" cy="364.3" r="3.9"/><circle cx="547.7" cy="387.3" r="3.9"/><circle cx="567.4" cy="364.3" r="3.9"/><circle cx="551.4" cy="349.1" r="3.9"/><circle cx="493.0" cy="346.0" r="3.9"/><circle cx="574.9" cy="346.4" r="3.9"/><circle cx="591.5" cy="343.8" r="3.9"/><circle cx="523.8" cy="385.2" r="3.9"/><circle cx="553.0" cy="383.3" r="3.9"/><circle cx="568.6" cy="377.3" r="3.9"/><circle cx="502.6" cy="365.8" r="3.9"/><circle cx="535.1" cy="369.1" r="3.9"/><circle cx="498.7" cy="357.1" r="3.9"/><circle cx="530.5" cy="343.6" r="3.9"/><circle cx="589.9" cy="356.6" r="3.9"/><circle cx="564.4" cy="371.4" r="3.9"/><circle cx="573.0" cy="343.6" r="3.9"/><circle cx="544.6" cy="348.7" r="3.9"/><circle cx="540.1" cy="340.5" r="3.9"/><circle cx="572.5" cy="352.1" r="3.9"/><circle cx="596.8" cy="372.7" r="3.9"/><circle cx="507.4" cy="383.2" r="3.9"/><circle cx="560.2" cy="343.3" r="3.9"/><circle cx="514.8" cy="387.9" r="3.9"/><circle cx="560.2" cy="356.4" r="3.9"/><circle cx="541.1" cy="348.7" r="3.9"/><circle cx="547.9" cy="366.2" r="3.9"/><circle cx="530.4" cy="377.8" r="3.9"/><circle cx="494.6" cy="356.2" r="3.9"/><circle cx="543.2" cy="364.9" r="3.9"/><circle cx="596.7" cy="354.6" r="3.9"/><circle cx="534.4" cy="364.6" r="3.9"/><circle cx="509.8" cy="388.2" r="3.9"/><circle cx="542.0" cy="381.5" r="3.9"/><circle cx="493.3" cy="370.8" r="3.9"/><circle cx="579.0" cy="347.9" r="3.9"/><circle cx="515.5" cy="355.7" r="3.9"/><circle cx="605.8" cy="367.7" r="3.9"/><circle cx="532.5" cy="350.5" r="3.9"/><circle cx="606.2" cy="360.3" r="3.9"/><circle cx="609.6" cy="364.4" r="3.9"/><circle cx="581.0" cy="368.1" r="3.9"/><circle cx="543.0" cy="385.1" r="3.9"/><circle cx="554.1" cy="389.2" r="3.9"/><circle cx="521.8" cy="380.9" r="3.9"/><circle cx="573.0" cy="375.9" r="3.9"/><circle cx="531.7" cy="357.7" r="3.9"/><circle cx="564.3" cy="362.3" r="3.9"/><circle cx="528.5" cy="389.8" r="3.9"/><circle cx="547.7" cy="370.8" r="3.9"/><circle cx="568.1" cy="345.5" r="3.9"/><circle cx="579.5" cy="341.5" r="3.9"/><circle cx="597.3" cy="364.8" r="3.9"/><circle cx="522.0" cy="349.2" r="3.9"/><circle cx="514.2" cy="367.3" r="3.9"/><circle cx="496.3" cy="368.7" r="3.9"/><circle cx="511.6" cy="373.6" r="3.9"/><circle cx="494.1" cy="352.7" r="3.9"/><circle cx="589.3" cy="372.5" r="3.9"/><circle cx="560.8" cy="337.3" r="3.9"/><circle cx="505.2" cy="370.7" r="3.9"/><circle cx="587.6" cy="352.9" r="3.9"/><circle cx="507.1" cy="378.7" r="3.9"/><circle cx="597.9" cy="346.2" r="3.9"/><circle cx="560.7" cy="371.4" r="3.9"/><circle cx="571.2" cy="371.0" r="3.9"/><circle cx="559.5" cy="388.9" r="3.9"/><circle cx="537.3" cy="349.4" r="3.9"/><circle cx="503.8" cy="356.7" r="3.9"/><circle cx="517.5" cy="349.1" r="3.9"/><circle cx="531.3" cy="361.1" r="3.9"/><circle cx="501.4" cy="377.9" r="3.9"/><circle cx="561.3" cy="352.1" r="3.9"/><circle cx="600.7" cy="350.3" r="3.9"/><circle cx="536.8" cy="375.5" r="3.9"/><circle cx="572.8" cy="356.1" r="3.9"/><circle cx="499.3" cy="364.6" r="3.9"/><circle cx="523.7" cy="365.6" r="3.9"/><circle cx="506.7" cy="345.5" r="3.9"/><circle cx="585.2" cy="357.5" r="3.9"/><circle cx="583.0" cy="378.2" r="3.9"/><circle cx="578.4" cy="360.4" r="3.9"/><circle cx="537.1" cy="358.9" r="3.9"/><circle cx="556.9" cy="357.1" r="3.9"/><circle cx="557.6" cy="376.1" r="3.9"/><circle cx="537.5" cy="382.3" r="3.9"/><circle cx="602.3" cy="357.1" r="3.9"/><circle cx="577.4" cy="382.0" r="3.9"/><circle cx="560.8" cy="360.4" r="3.9"/><circle cx="581.9" cy="345.9" r="3.9"/><circle cx="584.2" cy="338.9" r="3.9"/><circle cx="548.6" cy="336.9" r="3.9"/><circle cx="519.4" cy="390.3" r="3.9"/><circle cx="516.6" cy="363.9" r="3.9"/><circle cx="551.5" cy="387.2" r="3.9"/><circle cx="602.3" cy="369.0" r="3.9"/><circle cx="510.3" cy="364.3" r="3.9"/><circle cx="560.9" cy="380.8" r="3.9"/><circle cx="525.5" cy="380.7" r="3.9"/><circle cx="576.2" cy="371.7" r="3.9"/><circle cx="541.6" cy="374.5" r="3.9"/><circle cx="592.1" cy="354.1" r="3.9"/><circle cx="548.0" cy="358.3" r="3.9"/><circle cx="578.3" cy="364.8" r="3.9"/><circle cx="559.4" cy="366.8" r="3.9"/><circle cx="557.9" cy="339.2" r="3.9"/><circle cx="563.0" cy="347.7" r="3.9"/><circle cx="568.9" cy="358.1" r="3.9"/><circle cx="581.2" cy="356.7" r="3.9"/><circle cx="547.8" cy="378.1" r="3.9"/><circle cx="552.2" cy="354.3" r="3.9"/><circle cx="545.5" cy="375.6" r="3.9"/><circle cx="595.2" cy="368.0" r="3.9"/><circle cx="573.2" cy="368.3" r="3.9"/><circle cx="542.2" cy="345.5" r="3.9"/><circle cx="574.1" cy="339.2" r="3.9"/><circle cx="591.2" cy="362.0" r="3.9"/><circle cx="584.1" cy="361.1" r="3.9"/><circle cx="499.1" cy="373.9" r="3.9"/><circle cx="521.2" cy="371.7" r="3.9"/><circle cx="554.8" cy="371.0" r="3.9"/><circle cx="522.5" cy="338.8" r="3.9"/><circle cx="508.1" cy="353.3" r="3.9"/><circle cx="602.8" cy="372.4" r="3.9"/><circle cx="550.5" cy="343.1" r="3.9"/><circle cx="512.5" cy="351.1" r="3.9"/><circle cx="513.7" cy="344.4" r="3.9"/><circle cx="546.8" cy="344.3" r="3.9"/><circle cx="540.5" cy="358.8" r="3.9"/><circle cx="493.8" cy="376.3" r="3.9"/><circle cx="575.1" cy="359.0" r="3.9"/><circle cx="532.1" cy="339.4" r="3.9"/><circle cx="594.4" cy="358.0" r="3.9"/><circle cx="521.2" cy="343.1" r="3.9"/><circle cx="604.7" cy="350.3" r="3.9"/><circle cx="576.2" cy="342.4" r="3.9"/><circle cx="553.7" cy="337.0" r="3.9"/><circle cx="557.8" cy="383.3" r="3.9"/><circle cx="501.8" cy="350.6" r="3.9"/><circle cx="529.3" cy="370.8" r="3.9"/><circle cx="546.3" cy="384.2" r="3.9"/><circle cx="528.4" cy="339.4" r="3.9"/><circle cx="499.6" cy="368.9" r="3.9"/><circle cx="538.8" cy="343.7" r="3.9"/><circle cx="557.9" cy="346.3" r="3.9"/><circle cx="511.6" cy="370.3" r="3.9"/><circle cx="504.5" cy="381.6" r="3.9"/><circle cx="497.9" cy="347.3" r="3.9"/><circle cx="507.3" cy="361.5" r="3.9"/><circle cx="525.4" cy="336.9" r="3.9"/><circle cx="544.3" cy="369.3" r="3.9"/><circle cx="580.4" cy="373.7" r="3.9"/><circle cx="572.5" cy="380.7" r="3.9"/><circle cx="525.1" cy="352.3" r="3.9"/><circle cx="514.1" cy="341.1" r="3.9"/><circle cx="575.5" cy="378.1" r="3.9"/><circle cx="576.2" cy="354.1" r="3.9"/><circle cx="531.1" cy="335.2" r="3.9"/><circle cx="567.8" cy="340.7" r="3.9"/><circle cx="532.0" cy="354.0" r="3.9"/><circle cx="540.1" cy="352.7" r="3.9"/><circle cx="604.7" cy="363.7" r="3.9"/><circle cx="552.3" cy="359.8" r="3.9"/><circle cx="548.3" cy="390.6" r="3.9"/><circle cx="526.2" cy="376.0" r="3.9"/><circle cx="588.8" cy="365.9" r="3.9"/><circle cx="537.2" cy="355.0" r="3.9"/><circle cx="526.6" cy="342.2" r="3.9"/><circle cx="511.0" cy="347.2" r="3.9"/><circle cx="502.0" cy="361.9" r="3.9"/><circle cx="540.9" cy="388.3" r="3.9"/><circle cx="531.2" cy="367.5" r="3.9"/><circle cx="527.4" cy="366.3" r="3.9"/><circle cx="553.2" cy="378.3" r="3.9"/><circle cx="501.8" cy="346.8" r="3.9"/><circle cx="598.8" cy="369.1" r="3.9"/><circle cx="568.4" cy="373.7" r="3.9"/><circle cx="508.5" cy="368.1" r="3.9"/><circle cx="539.2" cy="336.3" r="3.9"/><circle cx="540.1" cy="377.5" r="3.9"/><circle cx="572.6" cy="364.5" r="3.9"/><circle cx="544.7" cy="355.1" r="3.9"/><circle cx="605.2" cy="354.3" r="3.9"/><circle cx="570.1" cy="361.3" r="3.9"/><circle cx="539.9" cy="371.3" r="3.9"/><circle cx="570.7" cy="383.9" r="3.9"/><circle cx="591.9" cy="350.7" r="3.9"/><circle cx="518.4" cy="384.9" r="3.9"/><circle cx="585.0" cy="342.3" r="3.9"/><circle cx="533.0" cy="372.3" r="3.9"/><circle cx="521.3" cy="375.3" r="3.9"/><circle cx="523.5" cy="355.7" r="3.9"/><circle cx="496.3" cy="360.8" r="3.9"/><circle cx="609.2" cy="351.7" r="3.9"/><circle cx="604.3" cy="345.6" r="3.9"/><circle cx="515.3" cy="375.1" r="3.9"/><circle cx="525.1" cy="388.4" r="3.9"/><circle cx="502.6" cy="385.8" r="3.9"/><circle cx="530.9" cy="383.3" r="3.9"/><circle cx="534.0" cy="386.3" r="3.9"/><circle cx="571.6" cy="348.2" r="3.9"/><circle cx="562.9" cy="366.7" r="3.9"/><circle cx="533.7" cy="390.0" r="3.9"/><circle cx="589.0" cy="341.5" r="3.9"/><circle cx="517.4" cy="339.8" r="3.9"/><circle cx="568.6" cy="353.9" r="3.9"/><circle cx="555.6" cy="342.2" r="3.9"/><circle cx="519.5" cy="353.9" r="3.9"/><circle cx="564.1" cy="357.1" r="3.9"/><circle cx="527.3" cy="361.6" r="3.9"/><circle cx="599.7" cy="362.3" r="3.9"/><circle cx="511.6" cy="378.6" r="3.9"/><circle cx="560.8" cy="375.1" r="3.9"/><circle cx="515.8" cy="379.6" r="3.9"/><circle cx="537.6" cy="387.8" r="3.9"/><circle cx="516.9" cy="359.3" r="3.9"/><circle cx="506.8" cy="364.9" r="3.9"/><circle cx="530.0" cy="312.0" r="3.9"/><circle cx="531.7" cy="322.5" r="3.9"/><circle cx="542.7" cy="318.1" r="3.9"/><circle cx="540.0" cy="322.0" r="3.9"/><circle cx="551.4" cy="318.5" r="3.9"/><circle cx="517.3" cy="326.0" r="3.9"/><circle cx="548.3" cy="328.2" r="3.9"/><circle cx="532.6" cy="330.8" r="3.9"/><circle cx="564.1" cy="329.5" r="3.9"/><circle cx="516.4" cy="333.4" r="3.9"/><circle cx="607.9" cy="339.6" r="3.9"/><circle cx="599.5" cy="344.9" r="3.9"/><circle cx="617.8" cy="344.1" r="3.9"/><circle cx="626.6" cy="346.1" r="3.9"/><circle cx="633.4" cy="349.5" r="3.9"/><circle cx="636.5" cy="345.7" r="3.9"/><circle cx="619.7" cy="353.7" r="3.9"/><circle cx="625.8" cy="357.1" r="3.9"/><circle cx="631.5" cy="361.3" r="3.9"/><circle cx="609.1" cy="348.0" r="3.9"/><circle cx="608.3" cy="354.1" r="3.9"/><circle cx="600.7" cy="354.8" r="3.9"/><circle cx="591.5" cy="342.6" r="3.9"/><circle cx="593.0" cy="360.9" r="3.9"/><circle cx="612.9" cy="360.9" r="3.9"/><circle cx="622.0" cy="364.0" r="3.9"/><circle cx="625.1" cy="367.0" r="3.9"/><circle cx="605.2" cy="367.0" r="3.9"/><circle cx="597.6" cy="365.5" r="3.9"/><circle cx="638.8" cy="364.0" r="3.9"/><circle cx="614" cy="356" r="3.9"/><circle cx="617" cy="368" r="3.9"/><circle cx="610" cy="372" r="3.9"/><circle cx="580.3" cy="382.9" r="3.9"/><circle cx="594.1" cy="377.5" r="3.9"/><circle cx="598.6" cy="379.1" r="3.9"/><circle cx="608.5" cy="379.8" r="3.9"/><circle cx="615.4" cy="376" r="3.9"/><circle cx="620.7" cy="373.3" r="3.9"/><circle cx="530.1" cy="311.8" r="3.9"/><circle cx="531.4" cy="320.5" r="3.9"/><circle cx="486.8" cy="325.4" r="3.9"/><circle cx="485.4" cy="334.6" r="3.9"/><circle cx="492.4" cy="339.0" r="3.9"/><circle cx="498.1" cy="343.4" r="3.9"/><circle cx="490.7" cy="348.7" r="3.9"/><circle cx="517.0" cy="325.9" r="3.9"/><circle cx="517.0" cy="336.0" r="3.9"/><circle cx="531.9" cy="321.9" r="3.9"/><circle cx="541.1" cy="321.9" r="3.9"/><circle cx="532.7" cy="331.1" r="3.9"/><circle cx="542.6" cy="318.3" r="3.9"/><circle cx="551.4" cy="318.3" r="3.9"/><circle cx="547.9" cy="328.4" r="3.9"/><circle cx="564.1" cy="329.7" r="3.9"/><circle cx="587.3" cy="313.9" r="3.9"/><circle cx="583.8" cy="316.6" r="3.9"/><circle cx="579.4" cy="321.4" r="3.9"/><circle cx="592.6" cy="324.5" r="3.9"/><circle cx="575.5" cy="334.5" r="3.9"/><circle cx="586.0" cy="335.8" r="3.9"/><circle cx="572.5" cy="283.7" r="3.9"/><circle cx="586.7" cy="291.3" r="3.9"/><circle cx="530.3" cy="311.6" r="3.9"/><circle cx="542.1" cy="317.6" r="3.9"/><circle cx="551.6" cy="318.6" r="3.9"/><circle cx="540.2" cy="321.4" r="3.9"/><circle cx="531.7" cy="322.4" r="3.9"/><circle cx="517.1" cy="326.2" r="3.9"/><circle cx="547.8" cy="328.1" r="3.9"/><circle cx="532.6" cy="331.9" r="3.9"/><circle cx="563.9" cy="329.0" r="3.9"/><circle cx="579.1" cy="320.5" r="3.9"/><circle cx="583.9" cy="315.7" r="3.9"/><circle cx="586.7" cy="313.8" r="3.9"/><circle cx="591.5" cy="324.3" r="3.9"/><circle cx="486.7" cy="325.6" r="3.9"/><circle cx="484.2" cy="334.3" r="3.9"/><circle cx="492.8" cy="338.5" r="3.9"/><circle cx="517.4" cy="335.7" r="3.9"/><circle cx="575.3" cy="334.7" r="3.9"/><circle cx="585.8" cy="335.7" r="3.9"/><circle cx="516.9" cy="326.0" r="3.9"/><circle cx="531.5" cy="321.9" r="3.9"/><circle cx="541.8" cy="318.2" r="3.9"/><circle cx="551.2" cy="318.2" r="3.9"/><circle cx="547.6" cy="328.5" r="3.9"/><circle cx="539.6" cy="321.9" r="3.9"/><circle cx="532.3" cy="330.7" r="3.9"/><circle cx="516.9" cy="335.8" r="3.9"/><circle cx="492.4" cy="339.1" r="3.9"/><circle cx="498.0" cy="343.8" r="3.9"/><circle cx="490.7" cy="348.2" r="3.9"/><circle cx="603.9" cy="315.0" r="3.9"/><circle cx="592.5" cy="324.3" r="3.9"/><circle cx="611.7" cy="325.7" r="3.9"/><circle cx="620.5" cy="327.2" r="3.9"/><circle cx="631.6" cy="325.7" r="3.9"/><circle cx="638.2" cy="327.2" r="3.9"/><circle cx="639.7" cy="331.2" r="3.9"/><circle cx="654.5" cy="317.5" r="3.9"/><circle cx="662.6" cy="328.7" r="3.9"/><circle cx="658.1" cy="332.7" r="3.9"/><circle cx="664.0" cy="334.9" r="3.9"/><circle cx="639.0" cy="332.2" r="3.9"/><circle cx="660.4" cy="331.5" r="3.9"/><circle cx="662.6" cy="337.4" r="3.9"/><circle cx="659.6" cy="341.1" r="3.9"/><circle cx="649.3" cy="345.5" r="3.9"/><circle cx="647.1" cy="349.2" r="3.9"/><circle cx="663.3" cy="347.7" r="3.9"/><circle cx="671.4" cy="350.6" r="3.9"/><circle cx="667.0" cy="355.8" r="3.9"/><circle cx="676.6" cy="362.4" r="3.9"/><circle cx="665.5" cy="366.9" r="3.9"/><circle cx="655.2" cy="359.5" r="3.9"/><circle cx="653.7" cy="363.9" r="3.9"/><circle cx="643.4" cy="361.0" r="3.9"/><circle cx="640.5" cy="364.7" r="3.9"/><circle cx="642.7" cy="369.1" r="3.9"/><circle cx="638.2" cy="372.8" r="3.9"/><circle cx="633.8" cy="346.2" r="3.9"/><circle cx="628.7" cy="344.7" r="3.9"/><circle cx="632.3" cy="349.9" r="3.9"/><circle cx="630.9" cy="361.0" r="3.9"/><circle cx="626.4" cy="357.3" r="3.9"/><circle cx="617.6" cy="344.0" r="3.9"/><circle cx="619.1" cy="352.9" r="3.9"/><circle cx="608.0" cy="339.6" r="3.9"/><circle cx="599.9" cy="344.7" r="3.9"/><circle cx="624.2" cy="366.9" r="3.9"/><circle cx="621.3" cy="369.8" r="3.9"/><circle cx="608.8" cy="377.2" r="3.9"/><circle cx="598.4" cy="377.2" r="3.9"/><circle cx="588.8" cy="378.7" r="3.9"/><circle cx="582.2" cy="381.6" r="3.9"/><circle cx="502.7" cy="395.7" r="3.9"/><circle cx="513.7" cy="398.7" r="3.9"/><circle cx="525.5" cy="397.2" r="3.9"/><circle cx="532.9" cy="392.8" r="3.9"/><circle cx="490.9" cy="378.0" r="3.9"/><circle cx="493.8" cy="363.3" r="3.9"/><circle cx="490.9" cy="351.5" r="3.9"/><circle cx="541.1" cy="392.0" r="3.9"/><circle cx="559.5" cy="394.2" r="3.9"/><circle cx="572.0" cy="389.1" r="3.9"/><circle cx="580.1" cy="381.7" r="3.9"/><circle cx="597.8" cy="377.3" r="3.9"/><circle cx="608.1" cy="378.8" r="3.9"/><circle cx="618.5" cy="372.1" r="3.9"/><circle cx="627.3" cy="364.7" r="3.9"/><circle cx="591.7" cy="324.6" r="3.9"/><circle cx="654.2" cy="317.9" r="3.9"/><circle cx="659.5" cy="340" r="3.9"/><circle cx="648.7" cy="346.2" r="3.9"/><circle cx="631.7" cy="346.2" r="3.9"/><circle cx="548.6" cy="329.3" r="3.9"/><circle cx="562.4" cy="329.3" r="3.9"/><circle cx="579.4" cy="320" r="3.9"/></g>
<ellipse cx="555.5" cy="362.16" rx="108.55" ry="39.85" transform="rotate(-9.04 555.5 362.16)" fill="none" stroke="#fd1549" stroke-width="1.5"/>
</g>
<rect x="420.8" y="251.7" width="260.2" height="165.8" fill="none" stroke="#3a3a3a" stroke-width="1.35"/>
<path d="M454.7 251.7v-3M454.7 417.5v3M496.7 251.7v-3M496.7 417.5v3M538.8 251.7v-3M538.8 417.5v3M580.8 251.7v-3M580.8 417.5v3M622.9 251.7v-3M622.9 417.5v3M664.9 251.7v-3M664.9 417.5v3M420.8 253.3h-3M681 253.3h3M420.8 287.1h-3M681 287.1h3M420.8 320.9h-3M681 320.9h3M420.8 354.7h-3M681 354.7h3M420.8 388.5h-3M681 388.5h3" stroke="#3a3a3a" stroke-width="1.2" fill="none"/>
<text x="454.7" y="437.1" font-size="14" text-anchor="middle">–0.15</text>
<text x="496.7" y="437.1" font-size="14" text-anchor="middle">–0.1</text>
<text x="538.8" y="437.1" font-size="14" text-anchor="middle">–0.05</text>
<text x="580.8" y="437.1" font-size="14" text-anchor="middle">0</text>
<text x="622.9" y="437.1" font-size="14" text-anchor="middle">0.05</text>
<text x="664.9" y="437.1" font-size="14" text-anchor="middle">0.1</text>
<text x="411.6" y="257.8" font-size="14" text-anchor="end">0.15</text>
<text x="411.6" y="291.6" font-size="14" text-anchor="end">0.1</text>
<text x="411.6" y="325.4" font-size="14" text-anchor="end">0.05</text>
<text x="411.6" y="359.2" font-size="14" text-anchor="end">0</text>
<text x="411.6" y="393.0" font-size="14" text-anchor="end">–0.05</text>
<text x="550.9" y="458.0" font-size="14" text-anchor="middle">PC1</text>
<text x="0" y="0" font-size="14" text-anchor="middle" transform="translate(364.1 326.5) rotate(-90)">PC2</text>
<text x="352" y="253.7" font-size="20.5" font-weight="bold" style="fill:#000">d</text>
<rect x="618.2" y="255.1" width="61.0" height="30.099999999999994" fill="#fff" stroke="#4a4a4a" stroke-width="1.1"/>
<circle cx="624.2" cy="263.1" r="3" fill="#0879ff"/><circle cx="624.2" cy="275.8" r="3" fill="#fd1549"/>
<text x="631.5" y="267.2" font-size="12.3">Controls</text>
<text x="631.5" y="279.2" font-size="12.3">Cancers</text>
</svg></body></html>
